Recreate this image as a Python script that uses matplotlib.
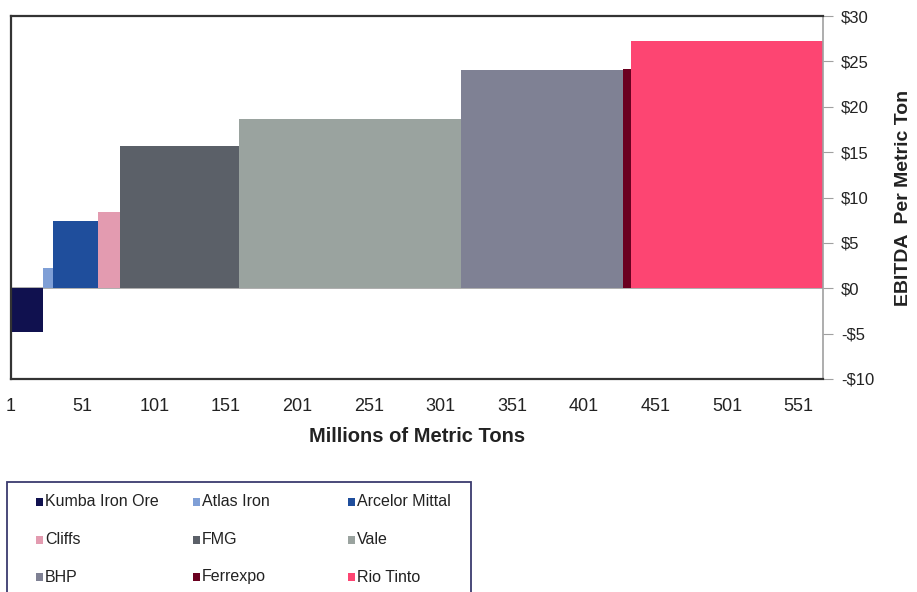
import numpy as np
import matplotlib
matplotlib.use("Agg")
import matplotlib.pyplot as plt
from matplotlib.patches import Rectangle
from matplotlib.ticker import FuncFormatter

plt.rcParams["font.family"] = ["Liberation Sans", "DejaVu Sans"]

# Data: capacity (Mt) and EBITDA per metric ton ($)
companies = ["Kumba Iron Ore", "Atlas Iron", "Arcelor Mittal",
             "Cliffs", "FMG", "Vale",
             "BHP", "Ferrexpo", "Rio Tinto"]
volumes = [22, 7, 32, 15, 83, 155, 113, 6, 134]
ebitda = [-4.8, 2.2, 7.4, 8.4, 15.7, 18.7, 24.0, 24.2, 27.2]
colors = ["#10114f", "#7f9fd6", "#1f4e9c", "#e39bb0", "#5b6068",
          "#9aa39f", "#7f8194", "#6b0020", "#fd4572"]

x_ticks = [1, 51, 101, 151, 201, 251, 301, 351, 401, 451, 501, 551]
y_ticks = [-10, -5, 0, 5, 10, 15, 20, 25, 30]

W, H = 917, 592
fig = plt.figure(figsize=(W / 100, H / 100), dpi=100)
ax = fig.add_axes([11 / W, 1 - 379 / H, (823 - 11) / W, (379 - 16) / H])

# left edges of each block
lefts = 1 + np.concatenate([[0], np.cumsum(volumes)[:-1]])
ax.bar(lefts, ebitda, width=volumes, align="edge", color=colors,
       edgecolor="none", zorder=2)
ax.axhline(0, color="#a0a0a0", lw=1.2, zorder=1)

ax.set_xlim(1, 1 + sum(volumes))
ax.set_ylim(-10, 30)
ax.set_xticks(x_ticks)
ax.set_yticks(y_ticks)
ax.yaxis.set_major_formatter(FuncFormatter(
    lambda v, p: f"-${abs(v):.0f}" if v < 0 else f"${v:.0f}"))

ax.yaxis.tick_right()
ax.yaxis.set_label_position("right")
ax.tick_params(axis="y", direction="out", length=7, color="#a0a0a0",
               labelsize=12, pad=6, labelcolor="#222222")
ax.tick_params(axis="x", length=0, labelsize=13, pad=14,
               labelcolor="#222222")

for side in ["left", "top", "bottom"]:
    ax.spines[side].set_color("#333333")
    ax.spines[side].set_linewidth(1.6)
ax.spines["right"].set_color("#a0a0a0")
ax.spines["right"].set_linewidth(1.2)

ax.set_xlabel("Millions of Metric Tons", fontsize=14.5, fontweight="bold",
              labelpad=8, color="#222222")
ax.set_ylabel("EBITDA  Per Metric Ton", fontsize=14, fontweight="bold",
              labelpad=15, color="#222222")

# legend box (runs off the bottom of the figure)
fig.patches.append(Rectangle((7 / W, -0.05), (471 - 7) / W,
                             (1 - 482 / H) + 0.05, transform=fig.transFigure,
                             fill=False, edgecolor="#3a3a6e", lw=1.3))

# legend entries, filled row by row
col_x = [36, 193, 348]
row_y = [502, 540, 577]
for i, (name, c) in enumerate(zip(companies, colors)):
    px, py = col_x[i % 3], row_y[i // 3]
    fig.patches.append(Rectangle((px / W, 1 - (py + 4) / H), 7 / W, 8 / H,
                                 transform=fig.transFigure, facecolor=c,
                                 edgecolor="none"))
    fig.text((px + 9) / W, 1 - py / H, name, fontsize=11.5, va="center",
             ha="left", color="#222222")

fig.savefig("out.png", dpi=100)
